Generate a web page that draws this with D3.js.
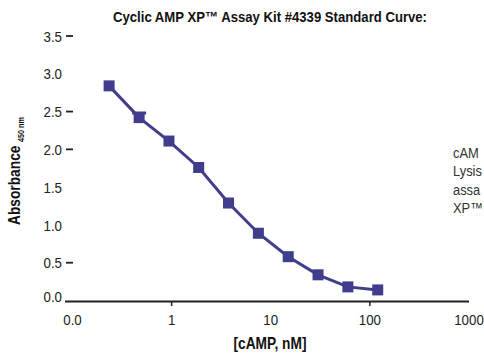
<!DOCTYPE html>
<html>
<head>
<meta charset="utf-8">
<script src="https://cdn.jsdelivr.net/npm/d3@7"></script>
<style>
  html, body { margin: 0; padding: 0; background: #fff; overflow: hidden; }
  svg { display: block; }
  text { font-family: "Liberation Sans", Arial, sans-serif; }
</style>
</head>
<body>
<svg id="chart" width="484" height="354"></svg>
<script>
// ---- data ----
const concentrations = [0.234, 0.47, 0.94, 1.875, 3.75, 7.5, 15, 30, 60, 120];   // cAMP, nM
const absorbance     = [2.84, 2.42, 2.11, 1.76, 1.29, 0.89, 0.58, 0.34, 0.18, 0.14];
const errors         = [0, 0.06, 0, 0, 0, 0, 0, 0, 0, 0];
const xTickValues    = [0.1, 1, 10, 100, 1000];
const xTickLabels    = ["0.0", "1", "10", "100", "1000"];
const xTickMarks     = [1, 100];
const yTickValues    = [0, 0.5, 1, 1.5, 2, 2.5, 3, 3.5];
const yTickLabels    = ["0.0", "0.5", "1.0", "1.5", "2.0", "2.5", "3.0", "3.5"];
const yDashValues    = [0.5, 2, 2.5, 3.5];
const titleText      = "Cyclic AMP XP\u2122 Assay Kit #4339 Standard Curve:";
const xTitle         = "[cAMP, nM]";
const yTitle         = "Absorbance";
const ySub           = "450 nm";
const sideText       = ["cAM", "Lysis", "assa", "XP\u2122"];

const color = "#403d8d";
const svg = d3.select("#chart");
const SX = 0.86; // condensed look

const x = d3.scaleLog().domain([0.1, 1000]).range([72.5, 469]);
const y = d3.scaleLinear().domain([0, 3.5]).range([300.5, 36]);

// title
svg.append("text")
  .attr("x", 270).attr("y", 22)
  .attr("text-anchor", "middle")
  .attr("font-weight", "bold").attr("font-size", 15)
  .attr("textLength", 314).attr("lengthAdjust", "spacingAndGlyphs")
  .attr("fill", "#111")
  .text(titleText);

// x axis line
svg.append("line")
  .attr("x1", 65).attr("x2", 469)
  .attr("y1", 301.5).attr("y2", 301.5)
  .attr("stroke", "#222").attr("stroke-width", 2);

// x tick marks
svg.selectAll(".xtick").data(xTickMarks).join("line")
  .attr("x1", d => x(d)).attr("x2", d => x(d))
  .attr("y1", 301.5).attr("y2", 306)
  .attr("stroke", "#222").attr("stroke-width", 1.5);

// x tick labels
svg.selectAll(".xlab").data(xTickValues).join("text")
  .attr("transform", d => `translate(${x(d)},325) scale(${SX},1)`)
  .attr("text-anchor", "middle")
  .attr("font-size", 15.5).attr("fill", "#222")
  .text((d, i) => xTickLabels[i]);

// y tick labels
svg.selectAll(".ylab").data(yTickValues).join("text")
  .attr("transform", d => `translate(62,${y(d) + (d === 0 ? -4 : 0)}) scale(${SX},1)`)
  .attr("dy", "0.36em")
  .attr("text-anchor", "end")
  .attr("font-size", 15.5).attr("fill", "#222")
  .text((d, i) => yTickLabels[i]);

// y dashes
svg.selectAll(".ydash").data(yDashValues).join("line")
  .attr("x1", 66).attr("x2", 73)
  .attr("y1", d => y(d)).attr("y2", d => y(d))
  .attr("stroke", "#222").attr("stroke-width", 1.8);

// axis titles
svg.append("text")
  .attr("transform", `translate(270,349) scale(${SX},1)`)
  .attr("text-anchor", "middle")
  .attr("font-weight", "bold").attr("font-size", 16).attr("fill", "#111")
  .text(xTitle);

const yt = svg.append("text")
  .attr("transform", `translate(20,225) rotate(-90) scale(${SX},1)`)
  .attr("text-anchor", "start")
  .attr("font-weight", "bold").attr("font-size", 16).attr("fill", "#111");
yt.append("tspan").text(yTitle);
yt.append("tspan").attr("font-size", 8.5).attr("dx", 4).attr("dy", 4).text(ySub);

// line
const line = d3.line().x((d, i) => x(concentrations[i])).y(d => y(d));
svg.append("path")
  .datum(absorbance)
  .attr("d", line)
  .attr("fill", "none")
  .attr("stroke", color).attr("stroke-width", 3);

// error bars
const eb = concentrations.map((c, i) => ({c, v: absorbance[i], e: errors[i]})).filter(d => d.e > 0);
svg.selectAll(".eb").data(eb).join("path")
  .attr("d", d => `M${x(d.c)},${y(d.v - d.e)}V${y(d.v + d.e)}M${x(d.c) - 7},${y(d.v + d.e)}H${x(d.c) + 7}`)
  .attr("stroke", color).attr("stroke-width", 3).attr("fill", "none");

// markers
const ms = 11;
svg.selectAll(".pt").data(absorbance).join("rect")
  .attr("x", (d, i) => x(concentrations[i]) - ms / 2)
  .attr("y", d => y(d) - ms / 2)
  .attr("width", ms).attr("height", ms)
  .attr("fill", color);

// side text (only the part visible at the page edge)
svg.selectAll(".side").data(sideText).join("text")
  .attr("transform", (d, i) => `translate(453,${158 + i * 18.3}) scale(${SX},1)`)
  .attr("font-size", 15).attr("fill", "#333")
  .text(d => d);
</script>
</body>
</html>
